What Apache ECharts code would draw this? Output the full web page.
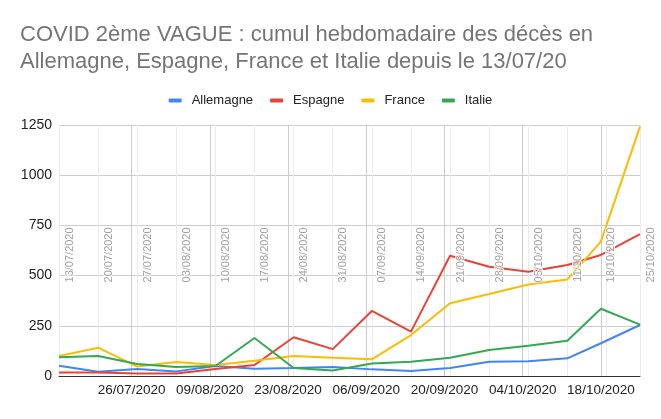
<!DOCTYPE html>
<html>
<head>
<meta charset="utf-8">
<script src="https://cdn.jsdelivr.net/npm/echarts@6/dist/echarts.min.js"></script>
<style>
  html, body { margin: 0; padding: 0; background: #fff; }
  #chart { width: 661px; height: 419px; }
</style>
</head>
<body>
<div id="chart"></div>
<script>
// dates des points hebdomadaires (position sur l'axe)
var dates = ['13/07/2020', '20/07/2020', '27/07/2020', '03/08/2020', '10/08/2020', '17/08/2020',
  '24/08/2020', '31/08/2020', '07/09/2020', '14/09/2020', '21/09/2020', '28/09/2020',
  '05/10/2020', '12/10/2020', '18/10/2020', '25/10/2020'];
// texte affiché verticalement dans le graphique (tel quel, avec le 11/10)
var dateLabels = ['13/07/2020', '20/07/2020', '27/07/2020', '03/08/2020', '10/08/2020', '17/08/2020',
  '24/08/2020', '31/08/2020', '07/09/2020', '14/09/2020', '21/09/2020', '28/09/2020',
  '05/10/2020', '11/10/2020', '18/10/2020', '25/10/2020'];
// libellés de l'axe du bas
var bottomTicks = ['26/07/2020', '09/08/2020', '23/08/2020', '06/09/2020', '20/09/2020', '04/10/2020', '18/10/2020'];
var yTicks = [0, 250, 500, 750, 1000, 1250];

var allemagne = [51, 21, 35, 23, 50, 36, 40, 45, 33, 25, 40, 71, 73, 88, 163, 254];
var espagne = [17, 17, 13, 12, 35, 55, 193, 134, 324, 221, 599, 544, 519, 553, 603, 706];
var france = [100, 141, 47, 70, 55, 76, 100, 91, 83, 204, 362, 408, 456, 481, 669, 1242];
var italie = [93, 100, 60, 45, 50, 189, 40, 27, 62, 71, 91, 129, 151, 176, 335, 256];

var FONT = 'Arial, "Liberation Sans", sans-serif';

function dayNum(s) {
  var p = s.split('/');
  return Date.UTC(+p[2], +p[1] - 1, +p[0]) / 86400000;
}
function fmtDay(d) {
  var dt = new Date(Math.round(d) * 86400000);
  var dd = ('0' + dt.getUTCDate()).slice(-2);
  var mm = ('0' + (dt.getUTCMonth() + 1)).slice(-2);
  return dd + '/' + mm + '/' + dt.getUTCFullYear();
}

var xs = dates.map(dayNum);
var xMin = xs[0], xMax = xs[xs.length - 1];
var bottomDays = bottomTicks.map(dayNum);

function lineSeries(name, color, values) {
  return {
    name: name,
    type: 'line',
    data: values.map(function (v, i) { return [xs[i], v]; }),
    symbol: 'none',
    lineStyle: { width: 2, color: color },
    itemStyle: { color: color },
    z: 3
  };
}

var chart = echarts.init(document.getElementById('chart'));

var option = {
  animation: false,
  textStyle: { fontFamily: FONT },
  title: {
    text: 'COVID 2ème VAGUE : cumul hebdomadaire des décès en\nAllemagne, Espagne, France et Italie depuis le 13/07/20',
    left: 20,
    top: 21,
    padding: 0,
    textStyle: {
      fontFamily: FONT,
      fontSize: 22,
      lineHeight: 27,
      fontWeight: 'normal',
      color: '#757575'
    }
  },
  legend: {
    data: ['Allemagne', 'Espagne', 'France', 'Italie'],
    left: 'center',
    top: 89,
    icon: 'roundRect',
    itemWidth: 13,
    itemHeight: 4,
    itemGap: 17,
    textStyle: {
      fontFamily: FONT,
      fontSize: 13,
      color: '#222',
      padding: [0, 0, 0, 5]
    }
  },
  grid: {
    left: 59,
    right: 21,
    top: 125,
    bottom: 43
  },
  xAxis: [{
    // grille fine : une ligne par semaine
    type: 'value',
    position: 'top',
    min: xMin,
    max: xMax,
    interval: 7,
    axisLine: { show: false },
    axisTick: { show: false },
    axisLabel: { show: false },
    splitLine: { show: true, lineStyle: { color: '#ebebeb', width: 1 } }
  }, {
    // axe du bas : une date sur deux semaines
    type: 'value',
    position: 'bottom',
    min: xMin,
    max: xMax,
    axisLine: { show: true, lineStyle: { color: '#333', width: 1 } },
    axisTick: { show: false, customValues: bottomDays },
    axisLabel: {
      customValues: bottomDays,
      formatter: fmtDay,
      fontFamily: FONT,
      fontSize: 13.5,
      color: '#222',
      margin: 7
    },
    splitLine: { show: true, lineStyle: { color: '#cccccc', width: 1 } }
  }],
  yAxis: {
    type: 'value',
    min: yTicks[0],
    max: yTicks[yTicks.length - 1],
    interval: yTicks[1] - yTicks[0],
    axisLine: { show: false },
    axisTick: { show: false },
    axisLabel: {
      formatter: function (v) { return String(v); },
      fontFamily: FONT,
      fontSize: 14,
      color: '#222',
      margin: 7
    },
    splitLine: { lineStyle: { color: '#cccccc', width: 1 } }
  },
  series: [
    lineSeries('Allemagne', '#4285F4', allemagne),
    lineSeries('Espagne', '#EA4335', espagne),
    lineSeries('France', '#FBBC04', france),
    lineSeries('Italie', '#34A853', italie),
    {
      // dates écrites à la verticale au niveau 750
      name: 'dates',
      type: 'scatter',
      xAxisIndex: 0,
      data: xs.map(function (x) { return [x, 750]; }),
      symbolSize: 0,
      clip: false,
      silent: true,
      z: 5,
      label: {
        show: true,
        formatter: function (p) { return dateLabels[p.dataIndex]; },
        position: [5, 2],
        rotate: 90,
        align: 'right',
        verticalAlign: 'top',
        fontFamily: FONT,
        fontSize: 11,
        color: '#8a8a8a',
        textBorderColor: '#fff',
        textBorderWidth: 2
      }
    }
  ]
};

chart.setOption(option);
</script>
</body>
</html>
